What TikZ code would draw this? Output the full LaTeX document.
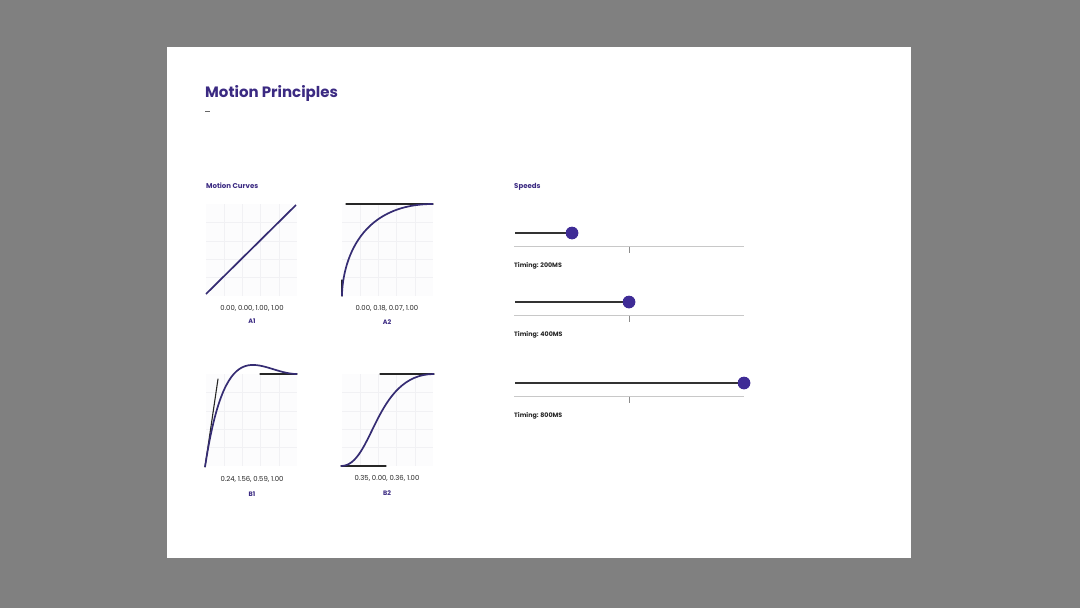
\documentclass[tikz,border=0pt]{standalone}
\usepackage{fontspec}
\setmainfont{Poppins}
\newfontfamily\pop{Poppins}
\usetikzlibrary{calc}
\definecolor{bggray}{HTML}{808080}
\definecolor{ink}{HTML}{3B2A82}
\definecolor{curve}{HTML}{352C73}
\definecolor{knob}{HTML}{3F2C96}
\definecolor{gridc}{HTML}{F1F1F4}
\definecolor{gridbg}{HTML}{FCFCFD}
\definecolor{track}{HTML}{C8C8C8}
\tikzset{
  title/.style={anchor=base west, inner sep=0, text=ink, font=\pop\bfseries\fontsize{15}{18}\selectfont},
  head/.style={anchor=base west, inner sep=0, text=ink, font=\pop\bfseries\fontsize{7}{8}\selectfont},
  vals/.style={anchor=base, inner sep=0, text=black!85, font=\pop\fontsize{6.9}{7}\selectfont},
  tag/.style={anchor=base, inner sep=0, text=ink, font=\pop\bfseries\fontsize{6.4}{7}\selectfont},
  timing/.style={anchor=base west, inner sep=0, text=black!85, font=\pop\bfseries\fontsize{6.3}{7}\selectfont},
  curveline/.style={draw=curve, line width=1.7pt},
  handle/.style={draw=black!85, line width=1.1pt, line cap=round},
  fill1/.style={draw=black!80, line width=1.2pt},
  trackline/.style={draw=track, line width=0.6pt},
  tick/.style={draw=black!45, line width=0.5pt},
  knobdot/.style={circle, fill=knob, minimum size=12.5pt, inner sep=0},
}
\newcommand{\gridbox}[2]{%
  \fill[gridbg] (#1,#2) rectangle ++(91,92);
  \foreach \i in {1,...,4}{
    \draw[gridc, line width=0.5pt] ($(#1,#2)+(\i*18.2,0)$) -- ++(0,92);
    \draw[gridc, line width=0.5pt] ($(#1,#2)+(0,\i*18.4)$) -- ++(91,0);
  }%
}
\begin{document}
\begin{tikzpicture}[x=1pt,y=-1pt]
\useasboundingbox (0,0) rectangle (1080,608);
\fill[bggray] (0,0) rectangle (1080,608);
\fill[white] (167,47) rectangle (911,558);

\node[title] (t) at (205,97) {Motion Principles};
\draw[black!60, line width=0.6pt] (205,111.5) -- (210,111.5);

\node[head] (mc) at (206,188.5) {Motion Curves};
\node[head] (sp) at (514,188.5) {Speeds};

% A1
\gridbox{206}{204}
\coordinate (a1s) at (206,294);
\coordinate (a1e) at (296,205);
\draw[curveline] (a1s) -- (a1e);
\node[vals] (a1v) at (252,310) {0.00, 0.00, 1.00, 1.00};
\node[tag] (a1t) at (252,323.5) {A1};

% A2
\gridbox{342}{204}
\coordinate (a2s) at (342,296);
\coordinate (a2p1) at (342,280);
\coordinate (a2p2) at (346,204);
\coordinate (a2e) at (433,204);
\draw[handle] (a2p2) -- (a2e);
\draw[handle] (a2s) -- (a2p1);
\draw[curveline] (a2s) .. controls (342,279.5) and (348.4,204) .. (a2e);
\node[vals] (a2v) at (387,310) {0.00, 0.18, 0.07, 1.00};
\node[tag] (a2t) at (387,324) {A2};

% B1
\gridbox{206}{374}
\coordinate (b1s) at (205,467);
\coordinate (b1h) at (218,379);
\coordinate (b1p2) at (260,374);
\coordinate (b1e) at (297,374);
\draw[handle] (b1s) -- (b1h);
\draw[handle] (b1p2) -- (b1e);
\draw[curveline] (b1s) .. controls (227.1,322) and (259.3,374) .. (b1e);
\node[vals] (b1v) at (252,481) {0.24, 1.56, 0.59, 1.00};
\node[tag] (b1t) at (252,496) {B1};

% B2
\gridbox{342}{374}
\coordinate (b2s) at (341,466);
\coordinate (b2h) at (386,466);
\coordinate (b2p2) at (380,374);
\coordinate (b2e) at (434,374);
\draw[handle] (b2s) -- (b2h);
\draw[handle] (b2p2) -- (b2e);
\draw[curveline] (b2s) .. controls (373.2,466) and (374.1,374) .. (b2e);
\node[vals] (b2v) at (387,480) {0.35, 0.00, 0.36, 1.00};
\node[tag] (b2t) at (387,495) {B2};

% Sliders
\foreach \y/\kx [count=\n] in {233/572, 302/629, 383/744}{
  \coordinate (s\n a) at (515,\y);
  \node[knobdot] (k\n) at (\kx,\y) {};
  \draw[fill1] (s\n a) -- (k\n.center);
  \node[knobdot] at (k\n) {};
  \coordinate (tr\n a) at (514,\y+13.5);
  \coordinate (tr\n b) at (744,\y+13.5);
  \draw[trackline] (tr\n a) -- (tr\n b);
  \coordinate (tk\n) at (629,\y+13.5);
  \draw[tick] (tk\n) -- ++(0,6);
}
\node[timing] (tm1) at (514,267) {Timing: 200MS};
\node[timing] (tm2) at (514,336) {Timing: 400MS};
\node[timing] (tm3) at (514,417) {Timing: 800MS};
\end{tikzpicture}
\end{document}
